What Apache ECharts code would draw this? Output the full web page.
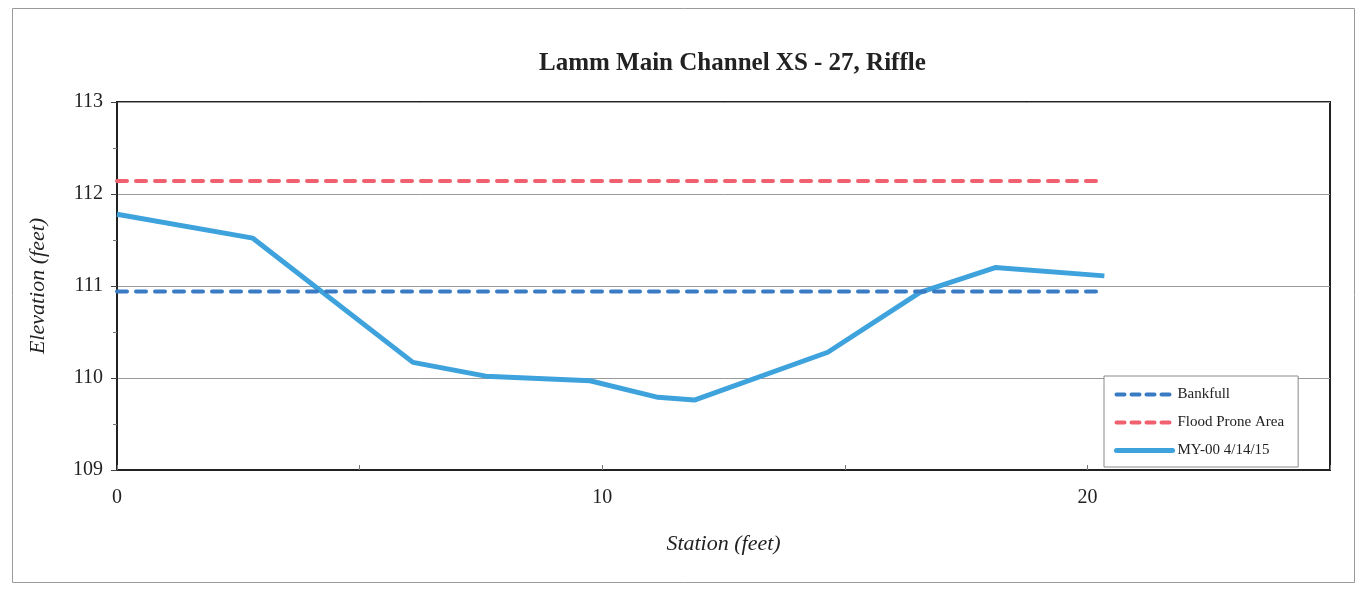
<!DOCTYPE html>
<html>
<head>
<meta charset="utf-8">
<title>Lamm Main Channel XS - 27, Riffle</title>
<script src="https://cdn.jsdelivr.net/npm/echarts@6/dist/echarts.min.js"></script>
<style>
  html, body { margin: 0; padding: 0; background: #fff; }
  #chart { width: 1363px; height: 589px; }
</style>
</head>
<body>
<div id="chart"></div>
<script>
// surveyed cross-section (station ft, elevation ft)
const stations = [0, 2.8, 6.1, 7.6, 9.75, 11.15, 11.9, 14.65, 16.55, 18.1, 20.35];
const elevations = [111.78, 111.52, 110.17, 110.02, 109.97, 109.79, 109.76, 110.28, 110.93, 111.2, 111.11];

// bankfull / flood prone reference lines
const bankfullStations = [0, 20.35];
const bankfullElev = [110.94, 110.94];
const floodStations = [0, 20.35];
const floodElev = [112.14, 112.14];

const xTicks = [0, 10, 20];
const yTicks = [109, 110, 111, 112, 113];

const pairs = (xs, ys) => xs.map((x, i) => [x, ys[i]]);

const serif = "'Liberation Serif', 'DejaVu Serif', serif";
const chart = echarts.init(document.getElementById("chart"));

const option = {
  animation: false,
  backgroundColor: "#fff",
  graphic: [
    {
      type: "rect",
      left: 10,
      top: 6,
      shape: { width: 1342, height: 574 },
      style: { fill: "none", stroke: "#9a9a9a", lineWidth: 1 },
      silent: true,
    },
  ],
  title: {
    text: "Lamm Main Channel XS - 27, Riffle",
    left: 534,
    top: 46,
    textStyle: {
      fontFamily: serif,
      fontSize: 25,
      fontWeight: "bold",
      color: "#222",
    },
  },
  grid: {
    left: 117,
    top: 102,
    width: 1213,
    height: 368,
    show: true,
    borderColor: "#222",
    borderWidth: 2,
    containLabel: false,
  },
  legend: {
    orient: "vertical",
    left: 1104,
    top: 376,
    itemWidth: 56,
    itemHeight: 12,
    itemGap: 13,
    padding: [11, 14, 9, 10],
    backgroundColor: "#fff",
    borderColor: "#8a8a8a",
    borderWidth: 1,
    itemStyle: { opacity: 0 },
    data: [
      { name: "Bankfull", lineStyle: { width: 4, type: [8, 7], cap: "round" } },
      { name: "Flood Prone Area", lineStyle: { width: 4, type: [8, 7], cap: "round" } },
      { name: "MY-00 4/14/15", lineStyle: { width: 5, cap: "round" } },
    ],
    textStyle: { fontFamily: serif, fontSize: 15, color: "#222" },
  },
  xAxis: {
    type: "value",
    min: 0,
    max: 25,
    interval: 5,
    name: "Station (feet)",
    nameLocation: "middle",
    nameGap: 63,
    nameTextStyle: { fontFamily: serif, fontSize: 22, fontStyle: "italic", color: "#222" },
    axisLine: { show: true, lineStyle: { color: "#222", width: 2 } },
    axisTick: { show: true, inside: true, length: 5, lineStyle: { color: "#777" } },
    axisLabel: {
      margin: 18,
      fontFamily: serif,
      fontSize: 20,
      color: "#222",
      formatter: (v) => (xTicks.includes(v) ? String(v) : ""),
    },
    splitLine: { show: false },
  },
  yAxis: {
    type: "value",
    min: 109,
    max: 113,
    interval: 1,
    name: "Elevation (feet)",
    nameLocation: "middle",
    nameRotate: 90,
    nameGap: 68,
    nameTextStyle: { fontFamily: serif, fontSize: 22, fontStyle: "italic", color: "#222" },
    axisLine: { show: true, lineStyle: { color: "#222", width: 2 } },
    axisTick: { show: true, length: 6, lineStyle: { color: "#444" } },
    minorTick: { show: true, splitNumber: 2, length: 4, lineStyle: { color: "#777" } },
    axisLabel: {
      margin: 14,
      fontFamily: serif,
      fontSize: 20,
      color: "#222",
      formatter: (v) => (yTicks.includes(v) ? String(v) : ""),
    },
    splitLine: { show: true, lineStyle: { color: "#9a9a9a", width: 1 } },
  },
  series: [
    {
      name: "Bankfull",
      type: "line",
      data: pairs(bankfullStations, bankfullElev),
      symbol: "none",
      lineStyle: { color: "#3a7cc3", width: 4, type: [10, 9], cap: "round" },
      itemStyle: { color: "#3a7cc3" },
    },
    {
      name: "Flood Prone Area",
      type: "line",
      data: pairs(floodStations, floodElev),
      symbol: "none",
      lineStyle: { color: "#f0606e", width: 4, type: [10, 9], cap: "round" },
      itemStyle: { color: "#f0606e" },
    },
    {
      name: "MY-00 4/14/15",
      type: "line",
      data: pairs(stations, elevations),
      symbol: "none",
      z: 1,
      lineStyle: { color: "#3ea2dc", width: 5 },
      itemStyle: { color: "#3ea2dc" },
    },
  ],
};

chart.setOption(option);
</script>
</body>
</html>
